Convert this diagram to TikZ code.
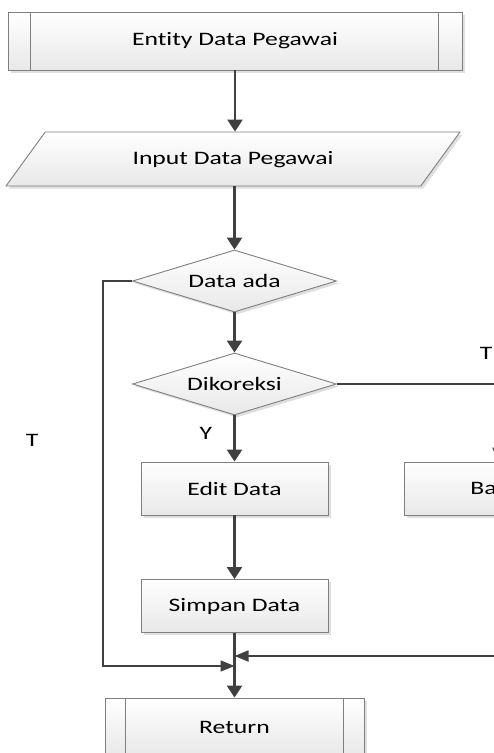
\documentclass[tikz,border=0pt]{standalone}
\usepackage{fontspec}
\setmainfont[FakeStretch=1.35, Ligatures=NoCommon]{Carlito}
\usepackage{tikz}
\usetikzlibrary{arrows.meta, positioning, shapes.geometric, shadows}
\definecolor{linegray}{HTML}{7F7F7F}
\definecolor{arrowgray}{HTML}{404040}

\begin{document}
\begin{tikzpicture}[x=1pt, y=-1pt,
    every node/.style={font=\fontsize{19}{22}\selectfont, text=black},
    txt/.style={inner sep=0pt},
    shade/.style={draw=linegray, line width=0.9pt, top color=white, bottom color=black!9,
        drop shadow={shadow xshift=2.5pt, shadow yshift=-2.5pt, fill=black!18, opacity=0.7}},
    box/.style={shade, rectangle, minimum width=187, minimum height=53},
    prebox/.style={shade, rectangle, minimum height=58},
    io/.style={shade, trapezium, trapezium left angle=54, trapezium right angle=126,
        trapezium stretches body, text height=14pt, text depth=4pt, inner ysep=18pt,
        minimum width=454, minimum height=54},
    decision/.style={shade, diamond, aspect=3.3, inner sep=0pt, minimum width=204, minimum height=62},
    flow/.style={draw=arrowgray, line width=2.6pt, -{Triangle[width=15pt, length=12pt]}},
    side/.style={draw=arrowgray, line width=1.8pt, -{Triangle[width=11pt, length=14pt]}},
    ]
\useasboundingbox (0,0) rectangle (494,753);
\clip (0,0) rectangle (494,753);

\node[prebox, minimum width=454] (entity) at (235,41) {Entity Data Pegawai};
\node[io] (input) at (233,159) {Input Data Pegawai};
\node[decision] (ada) at (234.5,281) {Data ada};
\node[decision] (koreksi) at (234.5,384) {Dikoreksi};
\node[box] (edit) at (234.5,488.5) {Edit Data};
\node[box, anchor=west, inner xsep=66pt, text width=55pt, align=left] (batal) at (404,488.5) {Ba};
\node[box] (simpan) at (234.5,606) {Simpan Data};
\node[prebox, minimum width=259] (return) at (234.5,727) {Return};

\draw[linegray, line width=0.9pt] ([xshift=23pt]entity.north west) -- ([xshift=23pt]entity.south west);
\draw[linegray, line width=0.9pt] ([xshift=-24pt]entity.north east) -- ([xshift=-24pt]entity.south east);
\draw[linegray, line width=0.9pt] ([xshift=21pt]return.north west) -- ([xshift=21pt]return.south west);
\draw[linegray, line width=0.9pt] ([xshift=-21pt]return.north east) -- ([xshift=-21pt]return.south east);

\coordinate (join1) at (234.5,666);
\coordinate (join2) at (234.5,656);

\draw[flow] (entity) -- (entity |- input.north);
\draw[flow] (input.south -| ada) -- (ada);
\draw[flow] (ada) -- (koreksi);
\draw[flow] (koreksi) -- node[txt, pos=0.4, left=21pt] {Y} (edit);
\draw[flow] (edit) -- (simpan);
\draw[flow] (simpan) -- (return);

% tidak ada data / tidak dikoreksi
\draw[side] (ada.west) -- ++(-29,0) |- (join1);
\draw[side, line width=1.3pt] (koreksi.east) -| (batal.north);
\draw[side] (batal.south) |- (join2);

\node[txt] (tkanan) at (486,353) {T};
\node[txt] (tkiri) at (32,440) {T};
\end{tikzpicture}
\end{document}
